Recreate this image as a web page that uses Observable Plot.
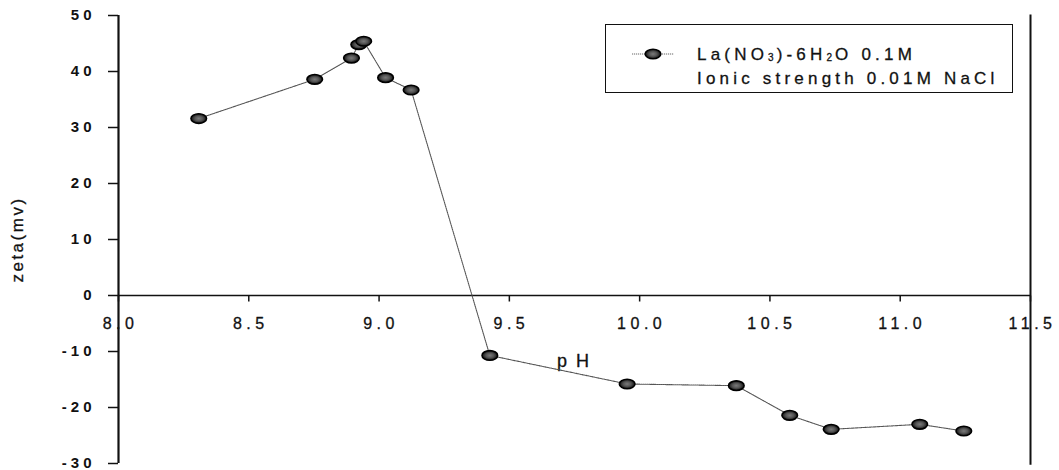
<!DOCTYPE html>
<html>
<head>
<meta charset="utf-8">
<script src="https://cdn.jsdelivr.net/npm/d3@7"></script>
<script src="https://cdn.jsdelivr.net/npm/@observablehq/plot@0.6"></script>
<style>
  html, body { margin: 0; padding: 0; background: white; }
  #wrap { position: relative; width: 1059px; height: 470px; overflow: hidden; font-family: "Liberation Sans", Arial, sans-serif; }
  #wrap svg.plot { position: absolute; left: 0; top: 0; }
  g[aria-label="y-axis tick label"] { letter-spacing: 4px; }
  text[aria-label="x tick labels"] { letter-spacing: 4.5px; }
  text[aria-label="x title"] { letter-spacing: 9px; }
  text[aria-label="y title"] { letter-spacing: 2.5px; }
  #legend { position: absolute; left: 605px; top: 24px; width: 406px; height: 67px; border: 1.5px solid #111; background: white; }
  #legend .sw { position: absolute; left: 26px; top: 22px; }
  #legend .txt { position: absolute; left: 91px; top: 19px; font-size: 17px; line-height: 21px; letter-spacing: 4.2px; color: #111; white-space: nowrap; -webkit-text-stroke: 0.3px #111; }
  #legend sub { font-size: 10px; vertical-align: -1px; letter-spacing: 3px; }
</style>
</head>
<body>
<svg width="0" height="0" style="position:absolute">
  <defs>
    <radialGradient id="dotg" cx="50%" cy="50%" r="50%">
      <stop offset="0%" stop-color="#7a7a7a"/>
      <stop offset="50%" stop-color="#555"/>
      <stop offset="100%" stop-color="#111"/>
    </radialGradient>
  </defs>
</svg>
<div id="wrap"></div>
<script>
// pH values (x) and zeta potential (mV)
const ph   = [8.308, 8.753, 8.894, 8.922, 8.941, 9.025, 9.123, 9.425, 9.952, 10.371, 10.576, 10.735, 11.075, 11.244];
const zeta = [31.6, 38.6, 42.4, 44.8, 45.4, 38.9, 36.7, -10.7, -15.8, -16.1, -21.4, -23.9, -23.0, -24.2];
const xTicks = [8.0, 8.5, 9.0, 9.5, 10.0, 10.5, 11.0, 11.5];
const yTicks = [-30, -20, -10, 0, 10, 20, 30, 40, 50];
const xTitle = "pH";
const yTitle = "zeta(mv)";
const seriesLine1 = ["La(NO", "3", ")-6H", "2", "O 0.1M"];
const seriesLine2 = "Ionic strength 0.01M NaCl";

const data = ph.map((x, i) => ({ph: x, zeta: zeta[i]}));

const k = 0.5523;
const ellipse = {
  draw(ctx) {
    const rx = 7.8, ry = 4.8;
    ctx.moveTo(rx, 0);
    ctx.bezierCurveTo(rx, ry * k, rx * k, ry, 0, ry);
    ctx.bezierCurveTo(-rx * k, ry, -rx, ry * k, -rx, 0);
    ctx.bezierCurveTo(-rx, -ry * k, -rx * k, -ry, 0, -ry);
    ctx.bezierCurveTo(rx * k, -ry, rx, -ry * k, rx, 0);
    ctx.closePath();
  }
};
const tickDown = {
  draw(ctx) { ctx.moveTo(0, 0); ctx.lineTo(0, 6); }
};

const svg = Plot.plot({
  width: 1059,
  height: 470,
  marginLeft: 118,
  marginRight: 29,
  marginTop: 15,
  marginBottom: 7,
  style: {background: "white", fontFamily: "'Liberation Sans', Arial, sans-serif", color: "#111", overflow: "visible"},
  x: {domain: [8, 11.5], axis: null},
  y: {domain: [-30, 50], axis: null},
  marks: [
    Plot.axisY({ticks: yTicks, tickSize: 10, tickPadding: 13, fontSize: 15, fontWeight: "bold", label: null, strokeWidth: 1.5, tickFormat: d => String(d)}),
    Plot.ruleX([8], {y1: -30, y2: 50, stroke: "#111", strokeWidth: 2.2}),
    Plot.ruleX([11.5], {y1: -30.3, y2: 50.1, stroke: "#111", strokeWidth: 2}),
    Plot.ruleY([0], {x1: 8, x2: 11.5, stroke: "#111", strokeWidth: 1.6}),
    Plot.dot(xTicks, {x: d => d, y: 0, symbol: tickDown, stroke: "#111", strokeWidth: 1.5, r: 3}),
    Plot.text(xTicks, {x: d => d, y: 0, dy: 28, dx: 2, text: d => d.toFixed(1), fontSize: 16, fill: "#111", stroke: "#111", strokeWidth: 0.3, ariaLabel: () => "x tick labels"}),
    Plot.text([xTitle], {frameAnchor: "middle", dx: 3, dy: 122, fontSize: 18, fill: "#111", stroke: "#111", strokeWidth: 0.3, ariaLabel: () => "x title"}),
    Plot.text([yTitle], {frameAnchor: "left", textAnchor: "middle", dx: -101, rotate: -90, fontSize: 17, fill: "#111", stroke: "#111", strokeWidth: 0.3, ariaLabel: () => "y title"}),
    Plot.line(data, {x: "ph", y: "zeta", stroke: "#555", strokeWidth: 1.1, strokeDasharray: "1.2,0.8"}),
    Plot.dot(data, {x: "ph", y: "zeta", symbol: ellipse, fill: "url(#dotg)", stroke: "#000", strokeWidth: 1.6})
  ]
});
svg.classList.add("plot");
const wrap = document.getElementById("wrap");
wrap.appendChild(svg);

// legend
const legend = document.createElement("div");
legend.id = "legend";
const l1 = seriesLine1.map((s, i) => i % 2 === 1 ? `<sub>${s}</sub>` : s).join("");
legend.innerHTML = `
  <svg class="sw" width="42" height="14">
    <line x1="0" x2="42" y1="7" y2="7" stroke="#666" stroke-width="1" stroke-dasharray="1.2,0.8"/>
    <ellipse cx="21" cy="7" rx="7.8" ry="4.8" fill="url(#dotg)" stroke="#000" stroke-width="1.6"/>
  </svg>
  <div class="txt">${l1}<br>${seriesLine2}</div>`;
wrap.appendChild(legend);
</script>
</body>
</html>
